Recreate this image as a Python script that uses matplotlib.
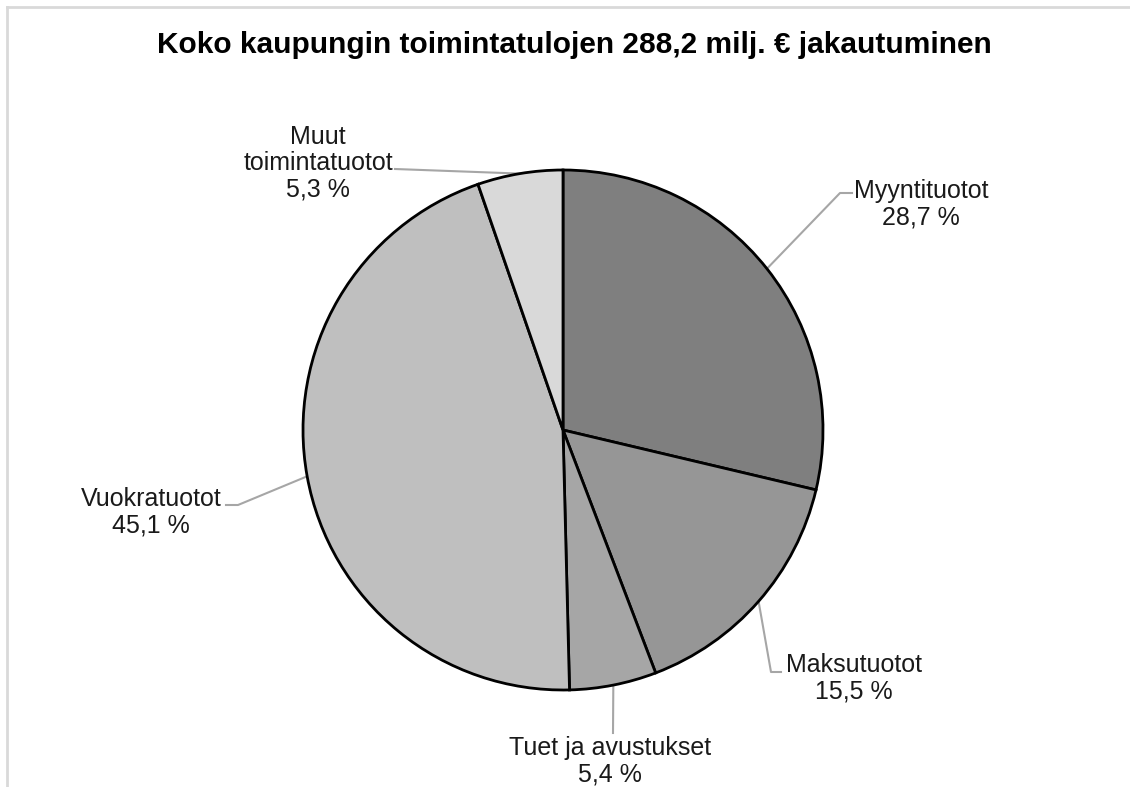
import matplotlib.pyplot as plt
import numpy as np

plt.rcParams['font.family'] = ['Liberation Sans', 'DejaVu Sans']

title = "Koko kaupungin toimintatulojen 288,2 milj. € jakautuminen"
names = ["Myyntituotot", "Maksutuotot", "Tuet ja avustukset", "Vuokratuotot", "Muut\ntoimintatuotot"]
shares = [28.7, 15.5, 5.4, 45.1, 5.3]
colors = ["#7f7f7f", "#969696", "#a6a6a6", "#bfbfbf", "#d9d9d9"]

W, H = 1130, 787
fig = plt.figure(figsize=(W / 100, H / 100), dpi=100)
ax = fig.add_axes([0, 0, 1, 1])

cx, cy, r = 563, H - 430, 260
wedges, _ = ax.pie(shares, colors=colors, startangle=90, counterclock=False,
                   center=(cx, cy), radius=r, frame=True,
                   wedgeprops=dict(edgecolor='black', linewidth=2))
ax.set_xlim(0, W)
ax.set_ylim(0, H)
ax.set_aspect('equal')
ax.axis('off')

# label placement (pixel coords from top) and leader line bends
label_pos = [(921, 204), (854, 678), (610, 761), (151, 512), (318, 163)]
bends = [[(840, 193), (852, 193)],
         [(771, 672), (781, 672)],
         [(613, 733)],
         [(238, 505), (226, 505)],
         [(395, 169)]]

for w, name, val, (lx, ly), bend in zip(wedges, names, shares, label_pos, bends):
    ang = np.deg2rad((w.theta1 + w.theta2) / 2)
    ex, ey = cx + r * np.cos(ang), cy + r * np.sin(ang)
    xs = [ex] + [b[0] for b in bend]
    ys = [ey] + [H - b[1] for b in bend]
    ax.plot(xs, ys, color='#a6a6a6', lw=1.5, zorder=0.5)
    txt = f"{name}\n{val:.1f} %".replace('.', ',')
    ax.text(lx, H - ly, txt, ha='center', va='center', fontsize=18,
            color='#1a1a1a', linespacing=1.12)

fig.text(574 / W, 1 - 45 / H, title, ha='center', va='center',
         fontsize=21.5, fontweight='bold', color='black')

# chart area border (cut off at right and bottom)
fig.add_artist(plt.Line2D([7 / W, 1], [1 - 7 / H, 1 - 7 / H], color='#d9d9d9', lw=2))
fig.add_artist(plt.Line2D([7 / W, 7 / W], [0, 1 - 7 / H], color='#d9d9d9', lw=2))

fig.savefig('out.png', dpi=100)
